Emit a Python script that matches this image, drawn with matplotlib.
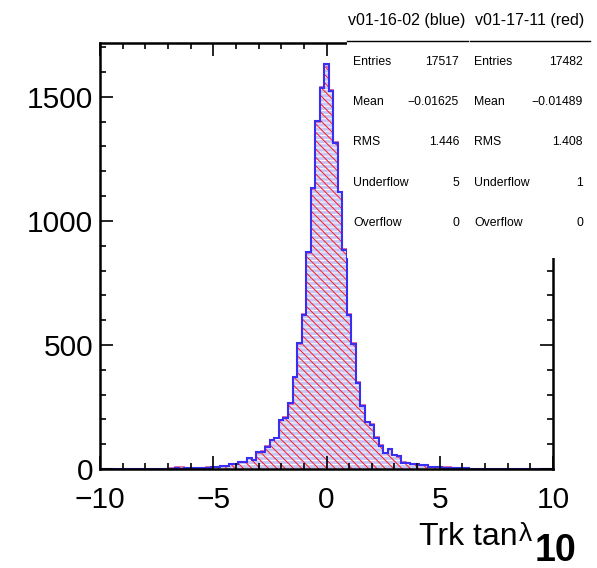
import numpy as np
import matplotlib
matplotlib.use("Agg")
import matplotlib.pyplot as plt
from matplotlib.ticker import MultipleLocator
from matplotlib.patches import Rectangle
from matplotlib.lines import Line2D

plt.rcParams["font.family"] = ["Liberation Sans", "DejaVu Sans"]
plt.rcParams["hatch.linewidth"] = 0.7

# ── data: Trk tan(lambda), 101 bins of width 0.2 centred on -10 ... 10 ──────
bin_edges = np.linspace(-10.1, 10.1, 102)

blue_counts = [
    0, 0, 1, 0, 0, 1, 0, 1, 1, 0,            # -10.0 .. -8.2
    1, 2, 1, 2, 2, 1, 2, 3, 2, 4,            # -8.0 .. -6.2
    3, 5, 4, 6, 5, 7, 8, 12, 12, 20,         # -6.0 .. -4.2
    20, 29, 29, 46, 36, 67, 70, 90, 117, 124,  # -4.0 .. -2.2
    198, 206, 265, 370, 507, 621, 876, 1132, 1403, 1535,  # -2.0 .. -0.2
    1633,                                    # 0.0
    1524, 1313, 1118, 883, 621, 503, 348, 254, 191, 177,  # 0.2 .. 2.0
    126, 93, 63, 79, 56, 52, 25, 25, 20, 20,   # 2.2 .. 4.0
    16, 18, 9, 9, 7, 6, 5, 4, 4, 3,          # 4.2 .. 6.0
    4, 2, 2, 1, 2, 1, 2, 1, 0, 1,            # 6.2 .. 8.0
    0, 1, 0, 0, 1, 0, 0, 0, 0, 0,            # 8.2 .. 10.0
]

red_counts = [
    0, 0, 0, 1, 0, 0, 1, 0, 1, 1,
    0, 1, 2, 1, 2, 2, 3, 9, 7, 5,
    4, 4, 5, 6, 7, 8, 9, 13, 12, 22,
    19, 30, 28, 45, 38, 66, 72, 92, 115, 126,
    196, 208, 263, 372, 505, 624, 872, 1128, 1398, 1540,
    1622,
    1528, 1318, 1115, 886, 624, 506, 352, 258, 189, 180,
    128, 95, 65, 80, 57, 50, 27, 24, 21, 19,
    17, 16, 10, 8, 8, 9, 8, 5, 3, 3,
    3, 2, 1, 2, 1, 2, 1, 1, 1, 0,
    1, 0, 1, 0, 0, 1, 0, 0, 0, 0,
]

stat_labels = ["Entries", "Mean", "RMS", "Underflow", "Overflow"]
blue_stats = ["17517", "\u22120.01625", "1.446", "5", "0"]
red_stats = ["17482", "\u22120.01489", "1.408", "1", "0"]
blue_title = "v01-16-02 (blue)"
red_title = "v01-17-11 (red)"

W, H = 597, 568
fig = plt.figure(figsize=(W / 100, H / 100), dpi=100)
ax = fig.add_axes([100 / W, 1 - 469 / H, 453 / W, 426 / H])

# hatched fills
ax.stairs(blue_counts, bin_edges, fill=True, facecolor="#c6c6f7",
          edgecolor="white", hatch="----", linewidth=0)
ax.stairs(red_counts, bin_edges, fill=True, facecolor="none",
          edgecolor="#ff1a1a", hatch="\\\\\\\\", linewidth=0)
# outlines
ax.stairs(red_counts, bin_edges, color="#e060a0", linewidth=1.3)
ax.stairs(blue_counts, bin_edges, color="#3a2ef0", linewidth=1.5)

ax.set_xlim(-10, 10)
ax.set_ylim(0, 1717)
ax.xaxis.set_major_locator(MultipleLocator(5))
ax.xaxis.set_minor_locator(MultipleLocator(1))
ax.yaxis.set_major_locator(MultipleLocator(500))
ax.yaxis.set_minor_locator(MultipleLocator(100))
ax.tick_params(which="both", direction="in", top=True, right=True,
               labelsize=21.5, width=1.2)
ax.tick_params(which="major", length=9.5)
ax.tick_params(which="minor", length=4.5)
ax.tick_params(axis="y", which="major", pad=5)
ax.tick_params(axis="x", which="major", pad=12)
for sp in ax.spines.values():
    sp.set_linewidth(1.8)

# axis title
fig.text(518 / W, 1 - 545 / H, "Trk tan", ha="right", va="baseline",
         fontsize=23)
fig.text(519 / W, 1 - 541 / H, "\u03bb", ha="left", va="baseline",
         fontsize=19)
fig.text(535 / W, 1 - 561 / H, "10", ha="left", va="baseline",
         fontsize=27, fontweight="bold")

# ── stats box ───────────────────────────────────────────────────────────────
fig.add_artist(Rectangle((347 / W, 1 - 258 / H), 250 / W, 258 / H,
                         transform=fig.transFigure, facecolor="white",
                         edgecolor="none", zorder=5))
fig.text(407 / W, 1 - 20 / H, blue_title, ha="center", va="center",
         fontsize=11.5, zorder=6)
fig.text(530 / W, 1 - 20 / H, red_title, ha="center", va="center",
         fontsize=11.5, zorder=6)
for x0, x1 in [(347, 468), (470, 590)]:
    fig.add_artist(Line2D([x0 / W, x1 / W], [1 - 41 / H, 1 - 41 / H],
                          transform=fig.transFigure, color="black",
                          linewidth=1.0, zorder=6))
for k, lab in enumerate(stat_labels):
    y = 1 - (61.7 + 40.3 * k) / H
    fig.text(353 / W, y, lab, ha="left", va="center", fontsize=8.8, zorder=6)
    fig.text(459 / W, y, blue_stats[k], ha="right", va="center",
             fontsize=8.8, zorder=6)
    fig.text(474 / W, y, lab, ha="left", va="center", fontsize=8.8, zorder=6)
    fig.text(583 / W, y, red_stats[k], ha="right", va="center",
             fontsize=8.8, zorder=6)

fig.savefig("out.png", dpi=100, facecolor="white")
